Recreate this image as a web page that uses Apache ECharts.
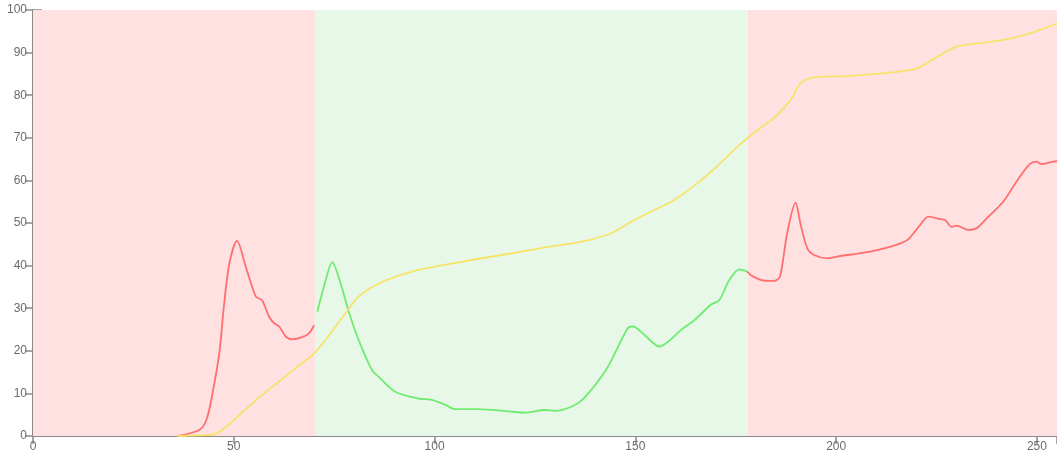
<!DOCTYPE html>
<html>
<head>
<meta charset="utf-8">
<script src="https://cdn.jsdelivr.net/npm/echarts@6/dist/echarts.min.js"></script>
<style>
  html, body { margin: 0; padding: 0; background: #fff; }
  #chart { width: 1057px; height: 453px; }
</style>
</head>
<body>
<div id="chart"></div>
<script>
// tick labels
const xTicks = [0, 50, 100, 150, 200, 250];
const yTicks = [0, 10, 20, 30, 40, 50, 60, 70, 80, 90, 100];

// background bands (x ranges)
const bandStarts = [0, 70.3, 178];
const bandEnds = [70.3, 178, 255];
const bandColors = ['#ffe1e2', '#e8f8e8', '#ffe1e2'];

// red, left part
const redAX = [36, 41.4, 43.2, 44.7, 46.4, 47.6, 48.9, 50.8, 53, 55.5, 57, 58.8, 60, 61.3, 63, 64.6, 67, 68.7, 70];
const redAY = [0, 1.4, 3.8, 10, 19.5, 31, 40.5, 45.8, 39.7, 32.7, 31.9, 28, 26.5, 25.7, 23.3, 22.7, 23.2, 24.1, 26];

// green, middle part
const greenX = [70.8, 72.9, 74.5, 76.6, 78.5, 81.1, 84.4, 86.1, 90.2, 96, 99.3, 102.7, 105.1, 110.9, 119.2, 122.5, 127.5, 130, 135.7, 139, 143.2, 148.1, 149.4, 152.3, 156, 158.1, 161.4, 164.7, 168.8, 170.9, 173.4, 175.9, 177.9];
const greenY = [29.2, 36.6, 40.8, 35.8, 29.6, 22.5, 15.5, 13.9, 10.4, 8.8, 8.5, 7.3, 6.3, 6.3, 5.7, 5.5, 6.1, 5.9, 7.7, 10.8, 16.3, 25.3, 25.7, 23.7, 21, 22.1, 24.9, 27.2, 30.8, 31.9, 36.6, 39.1, 38.6];

// red, right part
const redBX = [177.9, 178.7, 181.4, 184.5, 186, 187.8, 189.9, 191.1, 192.8, 194.5, 197.8, 200.2, 208.5, 212.7, 216, 218, 220.9, 223, 225.9, 227.1, 228.8, 230, 232.9, 235, 237.5, 241.6, 244.9, 248.2, 249.9, 251.1, 254, 255];
const redBY = [38.6, 37.8, 36.6, 36.4, 37.4, 47.6, 54.8, 49.9, 44.1, 42.5, 41.7, 42.1, 43.3, 44.2, 45.2, 46.2, 49.5, 51.5, 50.9, 50.7, 49.1, 49.4, 48.4, 48.8, 51.1, 55, 59.7, 63.8, 64.4, 63.8, 64.4, 64.5];

// yellow, cumulative
const yellowX = [36, 44.7, 46.5, 49.7, 53.8, 57.5, 61.3, 65.5, 70, 74, 77.8, 81.1, 86.1, 94.4, 106.8, 119.2, 128.3, 136.6, 144, 149, 153.1, 159.7, 165, 170, 175, 178, 181, 184.5, 188.7, 191.1, 194.5, 202.7, 215.1, 220.1, 225.1, 230, 235.8, 242.4, 248.2, 255];
const yellowY = [0, 0.3, 1, 3.5, 7, 10, 12.8, 16, 19.4, 24, 28.8, 32.7, 35.8, 38.6, 40.9, 42.9, 44.4, 45.6, 47.6, 50.3, 52.3, 55.4, 59, 63, 67.5, 70, 72.2, 74.6, 78.9, 82.8, 84.2, 84.5, 85.5, 86.3, 89, 91.4, 92.2, 93.1, 94.5, 96.8];

const pairs = (xs, ys) => xs.map((x, i) => [x, ys[i]]);

const axisColor = '#8f8888';
const labelStyle = { color: '#6b6b6b', fontSize: 12, fontFamily: 'Liberation Sans' };

const myChart = echarts.init(document.getElementById('chart'));

const lineSeries = (name, xs, ys, color) => ({
  name: name,
  type: 'line',
  data: pairs(xs, ys),
  smooth: 0.3,
  showSymbol: false,
  symbol: 'none',
  lineStyle: { color: color, width: 1.8 },
  z: 3,
  silent: true
});

const option = {
  animation: false,
  backgroundColor: '#fff',
  grid: { left: 33, right: -4, top: 10, bottom: 17 },
  xAxis: [{
    type: 'value',
    min: 0,
    max: 255,
    interval: 50,
    position: 'bottom',
    splitLine: { show: false },
    axisLine: { show: true, lineStyle: { color: axisColor, width: 2 } },
    axisTick: { show: true, inside: true, length: 8, lineStyle: { color: axisColor, width: 1.5 } },
    axisLabel: Object.assign({ margin: 5, showMaxLabel: false,
      formatter: v => xTicks.indexOf(v) >= 0 ? String(v) : '' }, labelStyle)
  }, {
    type: 'value',
    min: 0,
    max: 255,
    interval: 50,
    position: 'top',
    splitLine: { show: false },
    axisLine: { show: true, lineStyle: { color: axisColor, width: 2 } },
    axisTick: { show: true, inside: true, length: 8, lineStyle: { color: axisColor, width: 1.5 } },
    axisLabel: { show: false }
  }],
  yAxis: [{
    type: 'value',
    min: 0,
    max: 100,
    interval: 10,
    position: 'left',
    splitLine: { show: false },
    axisLine: { show: true, lineStyle: { color: axisColor, width: 2 } },
    axisTick: { show: true, inside: true, length: 9, lineStyle: { color: axisColor, width: 1.5 } },
    axisLabel: Object.assign({ margin: 6,
      formatter: v => yTicks.indexOf(v) >= 0 ? String(v) : '' }, labelStyle)
  }, {
    type: 'value',
    min: 0,
    max: 100,
    interval: 10,
    position: 'right',
    splitLine: { show: false },
    axisLine: { show: true, lineStyle: { color: axisColor, width: 2 } },
    axisTick: { show: true, inside: true, length: 8, lineStyle: { color: axisColor, width: 1.5 } },
    axisLabel: { show: false }
  }],
  series: [
    {
      name: 'bands',
      type: 'line',
      data: [],
      z: 1,
      silent: true,
      markArea: {
        silent: true,
        data: bandStarts.map((s, i) => [
          { xAxis: s, itemStyle: { color: bandColors[i] } },
          { xAxis: bandEnds[i] }
        ])
      }
    },
    lineSeries('red1', redAX, redAY, '#ff6f6f'),
    lineSeries('green', greenX, greenY, '#6fec6f'),
    lineSeries('red2', redBX, redBY, '#ff6f6f'),
    lineSeries('yellow', yellowX, yellowY, '#f7e36a')
  ]
};
myChart.setOption(option);
</script>
</body>
</html>
